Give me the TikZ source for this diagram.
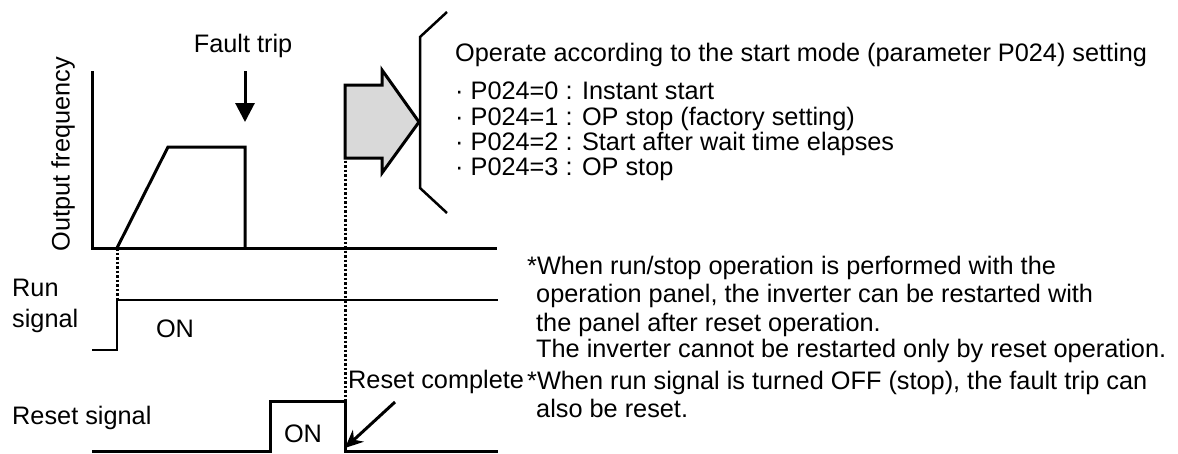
\documentclass[tikz,border=0pt]{standalone}
\usepackage{fontspec}
\setmainfont{Liberation Sans}
\usetikzlibrary{arrows.meta}
\begin{document}
\begin{tikzpicture}[x = 1pt, y = -1pt, line join = miter,
  wave/.style = {line width = 3pt},
  guide/.style = {line width = 3pt, dash pattern = on 2.5pt off 2pt},
  txt/.style = {inner sep = 0pt, font = \fontsize{25.3}{29}\selectfont}]
\useasboundingbox (0,0) rectangle (1178,453);
% output frequency
\draw[wave] (92,71) -- (92,248) -- (497,248);
\draw[wave] (117,248) -- (168,147) -- (245,147) -- (245,248);
\node[txt, rotate = 90] (freq) at (63,154) {Output frequency};
\node[txt, anchor = base] (trip) at (243,52) {Fault trip};
\coordinate (tripend) at (245,122);
\draw[line width = 3pt, -{Triangle[length = 19pt, width = 19pt]}] (245,71) -- (tripend);
% run signal
\draw[line width = 2.5pt] (92,350) -- (117,350) -- (117,300) -- (498,300);
\node[txt, anchor = base west] (run) at (12,296) {Run};
\node[txt, anchor = base west] (runsig) at (12,327) {signal};
\node[txt, anchor = base] (runon) at (175,337) {ON};
% reset signal
\draw[wave] (92,451) -- (270,451) -- (270,401) -- (345,401) -- (345,451) -- (498,451);
\node[txt, anchor = base west] (rst) at (12,424) {Reset signal};
\node[txt, anchor = base] (rston) at (303,442) {ON};
\node[txt, anchor = base west] (done) at (348,388) {Reset complete};
\coordinate (donetip) at (345,448);
\draw[line width = 3pt, -{Stealth[length = 18pt, width = 16pt]}] (395,402) -- (donetip);
% dotted guides
\draw[guide] (117,248) -- (117,300);
\draw[guide] (345,147) -- (345,401);
% big arrow and bracket
\filldraw[fill = black!15, line width = 3pt] (345,85) -- (382,85) -- (382,70) -- (419,122)
  -- (382,173) -- (382,158) -- (345,158) -- cycle;
\draw[line width = 2.5pt] (447,12) -- (420,37) -- (420,188) -- (447,213);
% start mode text
\node[txt, anchor = base west] (mode) at (455,61) {Operate according to the start mode (parameter P024) setting};
\node[txt, anchor = base west] (p0) at (455,99) {· P024=0 : Instant start};
\node[txt, anchor = base west] (p1) at (455,125) {· P024=1 : OP stop (factory setting)};
\node[txt, anchor = base west] (p2) at (455,150) {· P024=2 : Start after wait time elapses};
\node[txt, anchor = base west] (p3) at (455,175) {· P024=3 : OP stop};
% notes
\node[txt, anchor = base west] (n1) at (527,274) {*When run/stop operation is performed with the};
\node[txt, anchor = base west] (n2) at (536,302) {operation panel, the inverter can be restarted with};
\node[txt, anchor = base west] (n3) at (536,331) {the panel after reset operation.};
\node[txt, anchor = base west] (n4) at (536,357) {The inverter cannot be restarted only by reset operation.};
\node[txt, anchor = base west] (n5) at (527,389) {*When run signal is turned OFF (stop), the fault trip can};
\node[txt, anchor = base west] (n6) at (536,417) {also be reset.};
\end{tikzpicture}
\end{document}
